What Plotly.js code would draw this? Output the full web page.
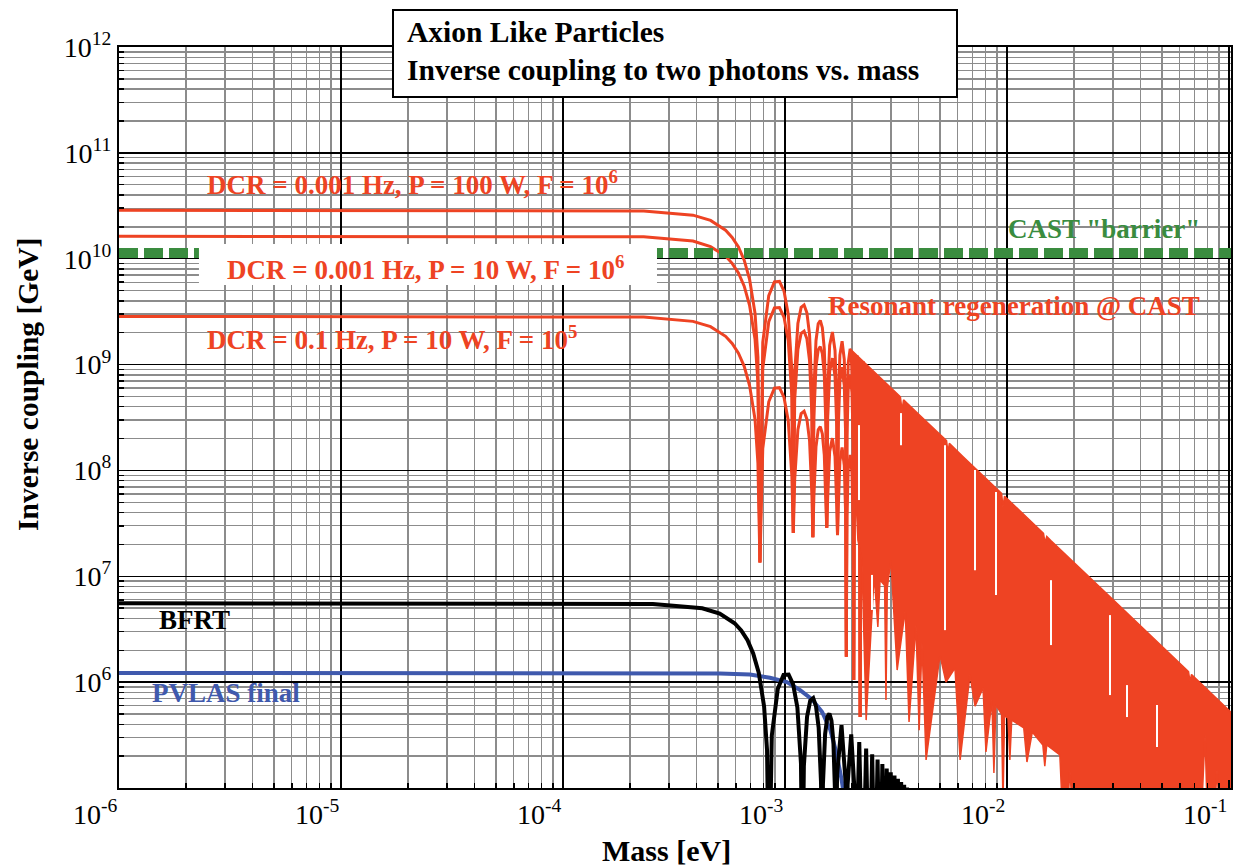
<!DOCTYPE html>
<html>
<head>
<meta charset="utf-8">
<script src="https://cdn.plot.ly/plotly-3.0.1.min.js"></script>
<style>html,body{margin:0;padding:0;background:#fff;}#chart{width:1237px;height:866px;}</style>
</head>
<body>
<div id="chart"></div>
<script>
// ---------------- data ----------------
// Resonant regeneration @ CAST: the three sensitivity curves share the mass samples
const redMass = [
  1.00e-6, 2.31e-4, 3.85e-4, 4.62e-4, 5.40e-4, 5.78e-4, 6.17e-4, 6.55e-4, 6.93e-4, 7.33e-4, 7.55e-4, 7.71e-4,
  7.94e-4, 8.45e-4, 8.96e-4, 9.44e-4, 9.90e-4, 1.034e-3, 1.074e-3, 1.090e-3,
  1.106e-3, 1.143e-3, 1.182e-3, 1.219e-3, 1.255e-3, 1.290e-3, 1.322e-3, 1.335e-3,
  1.349e-3, 1.379e-3, 1.411e-3, 1.442e-3, 1.473e-3, 1.503e-3, 1.530e-3, 1.542e-3,
  1.557e-3, 1.589e-3, 1.635e-3, 1.680e-3, 1.710e-3, 1.724e-3,
  1.738e-3, 1.767e-3, 1.808e-3, 1.849e-3, 1.876e-3, 1.889e-3,
  1.901e-3, 1.927e-3, 1.966e-3, 2.003e-3, 2.028e-3, 2.040e-3,
  2.051e-3, 2.076e-3, 2.111e-3, 2.146e-3, 2.170e-3, 2.180e-3,
  2.191e-3, 2.214e-3, 2.247e-3, 2.280e-3, 2.303e-3, 2.312e-3
];
// DCR = 0.001 Hz, P = 100 W, F = 1e6
const redCouplingA = [
  2.87e10, 2.83e10, 2.58e10, 2.30e10, 1.86e10, 1.59e10, 1.29e10, 9.68e9, 6.34e9, 3.05e9, 1.18e9, 1.35e7,
  1.62e9, 4.48e9, 6.04e9, 6.10e9, 4.93e9, 2.99e9, 8.83e8, 2.57e7,
  8.32e8, 2.44e9, 3.47e9, 3.66e9, 3.08e9, 1.92e9, 5.83e8, 2.34e7,
  5.60e8, 1.68e9, 2.43e9, 2.61e9, 2.23e9, 1.41e9, 4.35e8, 2.88e7,
  5.57e8, 1.52e9, 2.03e9, 1.36e9, 4.62e8, 2.45e7,
  4.48e8, 1.23e9, 1.66e9, 1.12e9, 3.84e8, 1.74e6,
  3.74e8, 1.04e9, 1.41e9, 9.57e8, 3.28e8, 1.05e6,
  3.21e8, 8.91e8, 1.22e9, 8.34e8, 2.87e8, 4.68e5,
  2.81e8, 7.83e8, 1.08e9, 7.38e8, 2.55e8, 3.98e6
];
// DCR = 0.001 Hz, P = 10 W, F = 1e6
const redCouplingB = [
  1.63e10, 1.61e10, 1.47e10, 1.30e10, 1.06e10, 9.04e9, 7.33e9, 5.50e9, 3.60e9, 1.73e9, 6.70e8, 1.35e7,
  9.18e8, 2.54e9, 3.43e9, 3.46e9, 2.80e9, 1.69e9, 5.01e8, 2.57e7,
  4.72e8, 1.39e9, 1.97e9, 2.07e9, 1.75e9, 1.09e9, 3.31e8, 2.34e7,
  3.18e8, 9.53e8, 1.38e9, 1.48e9, 1.27e9, 8.02e8, 2.47e8, 2.88e7,
  3.16e8, 8.63e8, 1.15e9, 7.73e8, 2.62e8, 2.45e7,
  2.54e8, 6.98e8, 9.44e8, 6.38e8, 2.18e8, 1.74e6,
  2.12e8, 5.87e8, 7.98e8, 5.43e8, 1.86e8, 1.05e6,
  1.82e8, 5.06e8, 6.92e8, 4.73e8, 1.63e8, 4.68e5,
  1.60e8, 4.45e8, 6.11e8, 4.19e8, 1.45e8, 3.98e6
];
// DCR = 0.1 Hz, P = 10 W, F = 1e5
const redCouplingC = [
  2.85e9, 2.81e9, 2.56e9, 2.28e9, 1.85e9, 1.58e9, 1.28e9, 9.62e8, 6.30e8, 3.03e8, 1.17e8, 1.35e7,
  1.61e8, 4.45e8, 6.00e8, 6.05e8, 4.90e8, 2.96e8, 8.77e7, 2.57e7,
  8.26e7, 2.43e8, 3.44e8, 3.63e8, 3.05e8, 1.91e8, 5.79e7, 2.34e7,
  5.56e7, 1.67e8, 2.42e8, 2.59e8, 2.22e8, 1.40e8, 4.32e7, 2.88e7,
  5.53e7, 1.51e8, 2.02e8, 1.35e8, 4.59e7, 2.45e7,
  4.45e7, 1.22e8, 1.65e8, 1.12e8, 3.81e7, 1.74e6,
  3.72e7, 1.03e8, 1.40e8, 9.51e7, 3.26e7, 1.05e6,
  3.19e7, 8.85e7, 1.21e8, 8.28e7, 2.85e7, 4.68e5,
  2.79e7, 7.78e7, 1.07e8, 7.33e7, 2.53e7, 3.98e6
];
// dense, unresolved oscillation band at high mass: upper envelope and jagged lower edge
const redDenseTopMass = [1.963e-3, 2.14e-3, 2.51e-3, 3.16e-3, 3.31e-3, 3.365e-3, 3.42e-3, 3.98e-3, 5.01e-3, 5.34e-3, 5.42e-3, 5.50e-3,
  6.31e-3, 7.94e-3, 9.45e-3, 9.59e-3, 9.75e-3, 1.00e-2, 1.26e-2, 1.46e-2, 1.483e-2, 1.51e-2, 1.58e-2, 2.00e-2, 2.51e-2,
  3.16e-2, 3.98e-2, 5.01e-2, 6.31e-2, 6.57e-2, 6.67e-2, 6.78e-2, 7.94e-2, 0.100, 0.112];
const redDenseTopCoupling = [1.41e9, 1.19e9, 8.61e8, 5.43e8, 4.96e8, 3.70e8, 4.65e8, 3.43e8, 2.16e8, 1.91e8, 1.49e8, 1.80e8,
  1.36e8, 8.61e7, 6.08e7, 4.55e7, 5.71e7, 5.43e7, 3.43e7, 2.55e7, 2.08e7, 2.38e7, 2.16e7, 1.36e7, 8.61e6,
  5.43e6, 3.43e6, 2.16e6, 1.36e6, 1.26e6, 1.02e6, 1.18e6, 8.61e5, 5.43e5, 4.32e5];
const redDenseFloorMass = [
  0.112, 0.0902, 0.0883, 0.0865, 0.0796, 0.0780, 0.0755, 0.01963, 0.0192, 0.0188, 0.0177, 0.0173,
  0.0151, 0.0148, 0.0145, 0.0130, 0.0123, 0.0119, 0.0105, 0.0103, 0.0101, 9.75e-3, 9.59e-3, 9.45e-3,
  8.91e-3, 8.73e-3, 8.55e-3, 8.04e-3, 7.80e-3, 7.18e-3, 6.81e-3, 6.15e-3, 5.83e-3, 5.31e-3, 4.99e-3,
  4.32e-3, 4.14e-3, 4.02e-3, 3.89e-3, 3.62e-3, 3.48e-3, 3.20e-3, 3.06e-3, 3.00e-3, 2.89e-3, 2.85e-3,
  2.81e-3, 2.68e-3, 2.62e-3, 2.52e-3, 2.32e-3, 2.22e-3, 2.13e-3, 2.09e-3, 2.004e-3
];
const redDenseFloorCoupling = [
  7e4, 7e4, 1.48e5, 7e4, 7e4, 3.17e5, 7e4, 7e4, 1.48e5, 7e4, 7e4, 2.05e5,
  2.55e5, 1.61e5, 2.55e5, 3.38e5, 1.76e5, 3.69e5, 4.38e5, 1.84e5, 4.58e5, 4.8e5, 7e4, 5.0e5,
  6.10e5, 1.39e5, 6.73e5, 2.19e5, 8.79e5, 5.94e5, 1.17e6, 1.84e5, 1.36e6, 1.00e6, 1.80e6,
  1.84e5, 2.34e6, 3.51e5, 3.46e6, 4.20e5, 4.80e6, 1.30e6, 6.65e6, 1.42e7, 7.8e6, 6.78e5,
  8.2e6, 9.20e6, 3.32e6, 1.03e7, 4.38e5, 1.42e7, 2.20e7, 5.25e7, 2.40e8
];
// thin white gaps seen inside the dense band (mass, upper and lower coupling of each gap)
const redGapMass = [2.154e-3, 2.465e-3, 3.330e-3, 5.256e-3, 7.177e-3, 8.922e-3, 1.578e-2, 2.911e-2, 3.472e-2, 4.739e-2];
const redGapTop = [2.68e8, 1.03e7, 3.48e8, 1.73e8, 1.01e8, 6.24e7, 9.19e6, 4.30e6, 9.38e5, 6.08e5];
const redGapBottom = [5.25e7, 4.80e6, 1.73e8, 3.10e6, 1.14e7, 6.64e6, 2.24e6, 7.55e5, 4.68e5, 2.44e5];

// BFRT
const bfrtMass = [
  1.00e-6, 2.54e-4, 4.24e-4, 5.08e-4, 5.93e-4, 6.35e-4, 6.78e-4, 7.19e-4, 7.62e-4, 8.05e-4, 8.30e-4, 8.47e-4,
  8.72e-4, 9.28e-4, 9.85e-4, 1.038e-3, 1.088e-3, 1.137e-3, 1.180e-3, 1.198e-3,
  1.216e-3, 1.257e-3, 1.299e-3, 1.340e-3, 1.379e-3, 1.418e-3, 1.453e-3, 1.468e-3,
  1.482e-3, 1.516e-3, 1.551e-3, 1.585e-3, 1.619e-3, 1.652e-3, 1.682e-3, 1.694e-3,
  1.716e-3, 1.797e-3, 1.876e-3, 1.895e-3,
  1.914e-3, 1.987e-3, 2.058e-3, 2.075e-3,
  2.160e-3, 2.241e-3, 2.320e-3, 2.396e-3, 2.470e-3, 2.541e-3, 2.612e-3, 2.679e-3, 2.745e-3, 2.810e-3,
  2.872e-3, 2.935e-3, 2.995e-3, 3.055e-3, 3.113e-3, 3.170e-3, 3.226e-3, 3.281e-3, 3.336e-3, 3.389e-3,
  3.441e-3, 3.493e-3, 3.544e-3, 3.594e-3
];
const bfrtCoupling = [
  5.55e6, 5.47e6, 4.99e6, 4.44e6, 3.60e6, 3.08e6, 2.49e6, 1.87e6, 1.22e6, 5.90e5, 2.28e5, 1e4,
  3.13e5, 8.65e5, 1.17e6, 1.18e6, 9.53e5, 5.77e5, 1.71e5, 1e4,
  1.61e5, 4.72e5, 6.70e5, 7.06e5, 5.94e5, 3.71e5, 1.13e5, 1e4,
  1.08e5, 3.24e5, 4.70e5, 5.05e5, 4.32e5, 2.73e5, 8.39e4, 1e4,
  1.33e5, 3.93e5, 1.11e5, 1e4,
  1.07e5, 3.21e5, 9.25e4, 1e4,
  2.72e5, 1e4, 2.36e5, 1e4, 2.08e5, 1e4, 1.86e5, 1e4, 1.68e5, 1e4,
  1.53e5, 1e4, 1.41e5, 1e4, 1.31e5, 1e4, 1.22e5, 1e4, 1.14e5, 1e4,
  1.07e5, 1e4, 1.01e5, 1e4
];

// PVLAS final
const pvlasMass = [1.00e-6, 5.09e-4, 6.95e-4, 8.55e-4, 1.02e-3, 1.17e-3, 1.32e-3, 1.47e-3, 1.60e-3, 1.70e-3, 1.79e-3, 1.86e-3];
const pvlasCoupling = [1.22e6, 1.21e6, 1.18e6, 1.10e6, 1.00e6, 8.41e5, 6.92e5, 5.22e5, 3.53e5, 2.19e5, 1.27e5, 7.7e4];

// CAST "barrier"
const castMass = [1.00e-6, 0.112];
const castCoupling = [1.13e10, 1.13e10];

// axis ticks
const xTickVals = [1e-6, 1e-5, 1e-4, 1e-3, 1e-2, 1e-1];
const xTickText = ['10<sup>-6</sup>', '10<sup>-5</sup>', '10<sup>-4</sup>', '10<sup>-3</sup>', '10<sup>-2</sup>', '10<sup>-1</sup>'];
const yTickVals = [1e6, 1e7, 1e8, 1e9, 1e10, 1e11, 1e12];
const yTickText = ['10<sup>6</sup>', '10<sup>7</sup>', '10<sup>8</sup>', '10<sup>9</sup>', '10<sup>10</sup>', '10<sup>11</sup>', '10<sup>12</sup>'];

// ---------------- styling ----------------
const SERIF = 'Liberation Serif, Times New Roman, serif';
const RED = '#ee4323';
const GREEN = '#3a8c3f';
const BLUE = '#3f59ad';

// gap segments: each gap is a short vertical white stroke, separated by nulls
const gapX = [], gapY = [];
redGapMass.forEach(function (m, i) {
  gapX.push(m, m, null);
  gapY.push(redGapTop[i], redGapBottom[i], null);
});

const traces = [
  {x: pvlasMass, y: pvlasCoupling, mode: 'lines', line: {color: BLUE, width: 4}, name: 'PVLAS final'},
  {x: bfrtMass, y: bfrtCoupling, mode: 'lines', line: {color: '#000', width: 4}, name: 'BFRT'},
  {x: redMass, y: redCouplingA, mode: 'lines', line: {color: RED, width: 3}, name: 'DCR 0.001 Hz, P 100 W, F 1e6'},
  {x: redMass, y: redCouplingB, mode: 'lines', line: {color: RED, width: 3}, name: 'DCR 0.001 Hz, P 10 W, F 1e6'},
  {x: redMass, y: redCouplingC, mode: 'lines', line: {color: RED, width: 3}, name: 'DCR 0.1 Hz, P 10 W, F 1e5'},
  {x: redDenseTopMass.concat(redDenseFloorMass), y: redDenseTopCoupling.concat(redDenseFloorCoupling),
   mode: 'lines', fill: 'toself', fillcolor: RED, line: {color: RED, width: 1.5}, name: 'Resonant regeneration @ CAST'},
  {x: gapX, y: gapY, mode: 'lines', connectgaps: false, line: {color: '#fff', width: 2}, name: 'gaps'},
  {x: castMass, y: castCoupling, mode: 'lines', line: {color: GREEN, width: 10, dash: '19px,6px'}, name: 'CAST barrier'}
];

const axisCommon = {
  type: 'log',
  showline: true, linecolor: '#000', linewidth: 2, mirror: true,
  ticks: 'inside', ticklen: 8, tickcolor: '#000', tickwidth: 1.5,
  showgrid: true, gridcolor: '#000', gridwidth: 1.5,
  zeroline: false,
  tickmode: 'array',
  tickfont: {family: SERIF, size: 28, color: '#000'},
  minor: {dtick: 'D1', showgrid: true, gridcolor: '#8c8c8c', gridwidth: 1.4, ticks: 'inside', ticklen: 5, tickcolor: '#000'}
};

function lab(text, lx, ly, anchor, color) {
  return {text: text, x: lx, y: ly, xref: 'x', yref: 'y', xanchor: anchor, yanchor: 'middle', showarrow: false,
          font: {family: SERIF, size: 27, color: color, weight: 'bold'}};
}

const layout = {
  width: 1237, height: 866,
  margin: {l: 119, r: 6, t: 47, b: 78, pad: 0},
  paper_bgcolor: '#fff', plot_bgcolor: '#fff',
  showlegend: false,
  hovermode: false,
  xaxis: Object.assign({}, axisCommon, {range: [-6, -0.991], tickvals: xTickVals, ticktext: xTickText, ticklabelposition: 'outside left'}),
  yaxis: Object.assign({}, axisCommon, {range: [5, 12], tickvals: yTickVals, ticktext: yTickText}),
  shapes: [
    // white panel behind the middle red label
    {type: 'rect', xref: 'paper', yref: 'paper', x0: 0.0719, x1: 0.4838, y0: 0.6788, y1: 0.7341, fillcolor: '#fff', line: {width: 0}, layer: 'above'},
    // title box
    {type: 'rect', xref: 'paper', yref: 'paper', x0: 0.2464, x1: 0.7536, y0: 0.9325, y1: 1.0499, fillcolor: '#fff', line: {color: '#000', width: 2}, layer: 'above'}
  ],
  annotations: [
    {text: 'Axion Like Particles', xref: 'paper', yref: 'paper', x: 0.2572, y: 1.0202, xanchor: 'left', yanchor: 'middle', showarrow: false,
     font: {family: SERIF, size: 29.5, color: '#000', weight: 'bold'}},
    {text: 'Inverse coupling to two photons vs. mass', xref: 'paper', yref: 'paper', x: 0.2572, y: 0.969, xanchor: 'left', yanchor: 'middle', showarrow: false,
     font: {family: SERIF, size: 29.5, color: '#000', weight: 'bold'}},
    {text: 'Mass [eV]', xref: 'paper', yref: 'paper', x: 0.492, y: -0.0837, xanchor: 'center', yanchor: 'middle', showarrow: false,
     font: {family: SERIF, size: 30, color: '#000', weight: 'bold'}},
    {text: 'Inverse coupling [GeV]', xref: 'paper', yref: 'paper', x: -0.0818, y: 0.544, xanchor: 'center', yanchor: 'middle', textangle: -90, showarrow: false,
     font: {family: SERIF, size: 29.5, color: '#000', weight: 'bold'}},
    lab('DCR = 0.001 Hz, P = 100 W, F = 10<sup>6</sup>', -5.613, 10.713, 'left', RED),
    lab('DCR = 0.001 Hz, P = 10 W, F = 10<sup>6</sup>', -5.523, 9.91, 'left', RED),
    lab('DCR = 0.1 Hz, P = 10 W, F = 10<sup>5</sup>', -5.613, 9.249, 'left', RED),
    lab('CAST "barrier"', -1.122, 10.279, 'right', GREEN),
    lab('Resonant regeneration @ CAST', -1.122, 9.551, 'right', RED),
    lab('BFRT', -5.829, 6.586, 'left', '#000'),
    lab('PVLAS final', -5.86, 5.897, 'left', BLUE)
  ]
};

Plotly.newPlot('chart', traces, layout, {displayModeBar: false, staticPlot: true});
</script>
</body>
</html>
